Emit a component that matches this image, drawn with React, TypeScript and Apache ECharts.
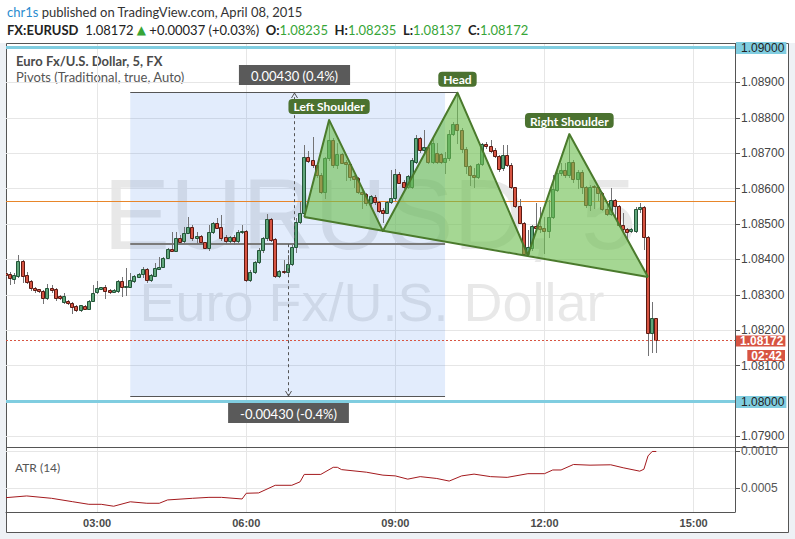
import React, { useEffect, useRef } from 'react';
import * as echarts from 'echarts';

// ---------- data ----------
const START_MINUTES = 70; // first 5-minute bar on the axis: 01:10
const BAR_MINUTES = 5;
const CATEGORY_COUNT = 177; // 01:10 .. 15:50
const timeLabels = ['03:00', '06:00', '09:00', '12:00', '15:00'];
const priceTicks = [1.079, 1.08, 1.081, 1.082, 1.083, 1.084, 1.085, 1.086, 1.087, 1.088, 1.089, 1.09];
const atrTicks = [0.0005, 0.001];

// [open, close, low, high] per 5-minute bar, starting at 01:10
const candles: number[][] = [
  [1.08362, 1.08356, 1.08353, 1.08364], [1.08359, 1.08347, 1.0833, 1.08365], [1.08345, 1.08356, 1.08332, 1.08361],
  [1.08354, 1.08395, 1.08351, 1.08412], [1.08395, 1.08354, 1.08337, 1.08398], [1.08356, 1.08337, 1.08332, 1.08365],
  [1.08339, 1.08318, 1.08314, 1.08342], [1.08318, 1.08314, 1.08307, 1.08323], [1.08316, 1.0831, 1.08308, 1.08317],
  [1.08311, 1.0829, 1.08278, 1.08314], [1.0829, 1.08318, 1.08287, 1.0833], [1.08318, 1.08314, 1.08309, 1.08328],
  [1.08316, 1.0829, 1.08285, 1.08318], [1.08297, 1.0829, 1.08287, 1.08299], [1.0828, 1.08297, 1.08276, 1.08306],
  [1.08282, 1.08276, 1.08274, 1.08285], [1.08276, 1.08266, 1.08249, 1.0828], [1.08268, 1.08257, 1.08255, 1.08271],
  [1.08257, 1.0827, 1.08255, 1.08271], [1.08268, 1.08261, 1.08259, 1.08271], [1.08261, 1.08283, 1.08259, 1.08285],
  [1.08283, 1.08306, 1.08283, 1.08328], [1.08307, 1.08318, 1.08304, 1.08339], [1.08317, 1.08321, 1.08316, 1.08323],
  [1.08321, 1.08312, 1.0829, 1.08328], [1.08314, 1.08308, 1.08306, 1.08316], [1.08309, 1.08314, 1.08307, 1.08316],
  [1.08312, 1.08339, 1.08309, 1.08342], [1.08339, 1.08323, 1.08297, 1.08351], [1.08323, 1.08324, 1.08299, 1.08375],
  [1.08323, 1.08342, 1.08322, 1.08362], [1.0834, 1.08353, 1.08337, 1.08356], [1.08351, 1.08359, 1.08349, 1.08361],
  [1.08358, 1.08372, 1.08351, 1.08379], [1.08372, 1.08342, 1.08337, 1.08375], [1.08342, 1.08356, 1.0834, 1.08359],
  [1.08354, 1.08375, 1.08354, 1.08389], [1.08374, 1.08378, 1.08372, 1.08408], [1.08378, 1.08403, 1.08378, 1.08408],
  [1.08403, 1.08429, 1.08403, 1.08431], [1.08429, 1.08425, 1.08424, 1.08477], [1.08425, 1.08461, 1.08424, 1.08478],
  [1.08461, 1.0845, 1.08448, 1.08469], [1.08452, 1.08474, 1.0845, 1.08492], [1.08474, 1.08491, 1.08474, 1.08521],
  [1.08491, 1.0846, 1.08455, 1.08497], [1.0846, 1.08467, 1.08445, 1.08478], [1.08466, 1.08448, 1.08445, 1.08469],
  [1.08448, 1.08433, 1.08431, 1.0845], [1.08433, 1.08477, 1.08427, 1.08497], [1.08477, 1.08502, 1.08474, 1.08505],
  [1.08502, 1.0849, 1.08488, 1.08516], [1.08491, 1.08461, 1.08455, 1.08525], [1.08464, 1.08452, 1.08445, 1.08469],
  [1.08452, 1.08464, 1.0845, 1.08467], [1.08464, 1.08452, 1.08443, 1.08469], [1.08452, 1.08478, 1.0845, 1.08483],
  [1.08477, 1.0848, 1.08474, 1.08497], [1.0848, 1.08342, 1.0834, 1.08483], [1.08342, 1.08363, 1.0834, 1.0837],
  [1.08363, 1.08392, 1.08361, 1.08395], [1.08392, 1.08426, 1.08389, 1.08431], [1.08426, 1.0846, 1.08422, 1.08464],
  [1.0846, 1.08514, 1.08455, 1.08527], [1.08514, 1.08455, 1.08452, 1.08518], [1.08458, 1.08354, 1.08351, 1.0846],
  [1.08354, 1.08367, 1.08351, 1.0837], [1.08367, 1.08363, 1.08361, 1.08398], [1.08363, 1.08386, 1.08358, 1.08412],
  [1.08386, 1.08436, 1.08384, 1.08441], [1.08436, 1.08506, 1.08422, 1.08516], [1.08506, 1.0853, 1.08502, 1.08563],
  [1.0853, 1.08688, 1.08525, 1.08723], [1.08688, 1.08679, 1.08676, 1.08707], [1.08681, 1.08667, 1.08662, 1.08747],
  [1.08667, 1.08638, 1.08634, 1.08671], [1.08638, 1.08591, 1.08587, 1.08643], [1.08591, 1.08686, 1.08573, 1.0869],
  [1.08686, 1.08737, 1.08681, 1.08794], [1.08737, 1.08667, 1.08662, 1.08742], [1.08667, 1.08698, 1.08657, 1.08728],
  [1.08698, 1.08673, 1.08671, 1.087], [1.08676, 1.08669, 1.08624, 1.08681], [1.08669, 1.08634, 1.08624, 1.08671],
  [1.08636, 1.08626, 1.08605, 1.08638], [1.08629, 1.08591, 1.08587, 1.08634], [1.08591, 1.08585, 1.08544, 1.08596],
  [1.08585, 1.08558, 1.08554, 1.08587], [1.08558, 1.08579, 1.08554, 1.08582], [1.08577, 1.08563, 1.08556, 1.08582],
  [1.08562, 1.08537, 1.08535, 1.08566], [1.0854, 1.08532, 1.08506, 1.08544], [1.08532, 1.08562, 1.0853, 1.08566],
  [1.08562, 1.08573, 1.0856, 1.08652], [1.08573, 1.08641, 1.08568, 1.08654], [1.08641, 1.08617, 1.08615, 1.08648],
  [1.0862, 1.08604, 1.08601, 1.08624], [1.08604, 1.08636, 1.08601, 1.08638], [1.08605, 1.08681, 1.08602, 1.08686],
  [1.08676, 1.08742, 1.08671, 1.08751], [1.08742, 1.08709, 1.08704, 1.08747], [1.08709, 1.08717, 1.08704, 1.08765],
  [1.08717, 1.08676, 1.08671, 1.08723], [1.08676, 1.08728, 1.08671, 1.08747], [1.08701, 1.08676, 1.08671, 1.08728],
  [1.08698, 1.08676, 1.08671, 1.08701], [1.08676, 1.08686, 1.08643, 1.08704], [1.08686, 1.08754, 1.08681, 1.08765],
  [1.08754, 1.08782, 1.08751, 1.08789], [1.08782, 1.08765, 1.08728, 1.08871], [1.08765, 1.08711, 1.08704, 1.0877],
  [1.08711, 1.08664, 1.08643, 1.08718], [1.08664, 1.08638, 1.0861, 1.08667], [1.08638, 1.08634, 1.08605, 1.08657],
  [1.08634, 1.08669, 1.08629, 1.08671], [1.08669, 1.08726, 1.08667, 1.0873], [1.08726, 1.0872, 1.08714, 1.08732],
  [1.0872, 1.08707, 1.08704, 1.08737], [1.08709, 1.08692, 1.08688, 1.08714], [1.08692, 1.08654, 1.0865, 1.08695],
  [1.08658, 1.08695, 1.08652, 1.08723], [1.08695, 1.08667, 1.08664, 1.08723], [1.08667, 1.08604, 1.08601, 1.08671],
  [1.08604, 1.08551, 1.08549, 1.08605], [1.08551, 1.08504, 1.08502, 1.0857], [1.08504, 1.08415, 1.08414, 1.08506],
  [1.08415, 1.08434, 1.08412, 1.08483], [1.08431, 1.08494, 1.08427, 1.08497], [1.08494, 1.08488, 1.08483, 1.08558],
  [1.08494, 1.08485, 1.08478, 1.08549], [1.08488, 1.08481, 1.08417, 1.08521], [1.08481, 1.08519, 1.08464, 1.08568],
  [1.08519, 1.08598, 1.08516, 1.08638], [1.08596, 1.08643, 1.08594, 1.08652], [1.08643, 1.08652, 1.08638, 1.08671],
  [1.08652, 1.08638, 1.08634, 1.08671], [1.08638, 1.08676, 1.08634, 1.08753], [1.08676, 1.08626, 1.0862, 1.08681],
  [1.08626, 1.08648, 1.08601, 1.08652], [1.08648, 1.08604, 1.08588, 1.08652], [1.08604, 1.08554, 1.08549, 1.08607],
  [1.08554, 1.08604, 1.0854, 1.0861], [1.08607, 1.08604, 1.08544, 1.0861], [1.08604, 1.08587, 1.08568, 1.08607],
  [1.08587, 1.08541, 1.0854, 1.08591], [1.08541, 1.08528, 1.08525, 1.08558], [1.08528, 1.08568, 1.08525, 1.08601],
  [1.08568, 1.08551, 1.08516, 1.0857], [1.08551, 1.08497, 1.08494, 1.08554], [1.08497, 1.08485, 1.08483, 1.0853],
  [1.08485, 1.08478, 1.08455, 1.08488], [1.08481, 1.08485, 1.08478, 1.08488], [1.08481, 1.08541, 1.08478, 1.08547],
  [1.08541, 1.08547, 1.08535, 1.08558], [1.08547, 1.08462, 1.08429, 1.08551], [1.08462, 1.08191, 1.0813, 1.08466],
  [1.08191, 1.08235, 1.08139, 1.0828], [1.08235, 1.08172, 1.08137, 1.08235],
];

// ATR(14) readings: [bar index, value]
const atrPoints: number[][] = [
  [0, 0.000376], [5, 0.000399], [11, 0.000367], [16, 0.000322], [20, 0.000286], [23, 0.000286], [26, 0.00026],
  [30, 0.00032], [34, 0.0003], [37, 0.0003], [39, 0.000345], [45, 0.000367], [49, 0.00038], [52, 0.00038],
  [57, 0.000358], [58, 0.000435], [61, 0.00044], [65, 0.000543], [69, 0.000543], [71, 0.00059], [72, 0.00069],
  [76, 0.00069], [79, 0.000786], [80, 0.000786], [81, 0.000755], [87, 0.00072], [91, 0.00068], [94, 0.00067],
  [97, 0.000626], [100, 0.00066], [104, 0.000635], [107, 0.0006], [110, 0.00067], [113, 0.000694], [117, 0.00066],
  [121, 0.00065], [126, 0.0007], [130, 0.0007], [132, 0.00075], [134, 0.00075], [137, 0.000824], [141, 0.000815],
  [146, 0.00082], [149, 0.00078], [153, 0.000734], [154, 0.00076], [155, 0.00094], [156, 0.001], [157, 0.001],
];

const pivotCyan = [1.09, 1.08];
const pivotOrange = [1.08565];
const lastPrice = 1.08172;
const countdownText = '02:42';

// price range tool
const rangeStartIdx = 30;
const rangeEndIdx = 106;
const rangeTopEndIdx = 109;
const rangeBase = 1.08443;
const rangeTop = 1.08873;
const rangeBottom = 1.08013;
const rangeUpLabel = '0.00430 (0.4%)';
const rangeDownLabel = '-0.00430 (-0.4%)';

// head & shoulders points: [bar index, price]
const hsPoints: number[][] = [
  [72, 1.0852], [78, 1.08794], [91, 1.0848], [109, 1.08871], [126, 1.08412], [136, 1.08754], [155, 1.0835],
];
const hsLabelText = ['Left Shoulder', 'Head', 'Right Shoulder'];
const hsLabelAt = [1, 3, 5];

// axis extents
const PRICE_MIN = 1.0787;
const PRICE_MAX = 1.090085;
const ATR_MIN = 0.000182;
const ATR_MAX = 0.001047;

// ---------- styles ----------
const UP_FILL = '#5fa57a';
const UP_BORDER = '#225437';
const DOWN_FILL = '#d75442';
const DOWN_BORDER = '#5b1a13';
const WICK = '#737375';
const GRID_COLOR = '#e6e6e6';
const UI_FONT = 'Lato, "Open Sans", sans-serif';
const AXIS_FONT = '"Liberation Sans", Arial, sans-serif';

const pad2 = (n: number) => String(n).padStart(2, '0');
const categories = Array.from({ length: CATEGORY_COUNT }, (_, i) => {
  const m = START_MINUTES + i * BAR_MINUTES;
  return `${pad2(Math.floor(m / 60))}:${pad2(m % 60)}`;
});
const isLabelTime = (_i: number, v: string) => timeLabels.includes(v);
const cr = (v: number) => Math.round(v) + 0.5;

const renderCandle = (_params: any, api: any) => {
  const i = api.value(0);
  const o = api.value(1);
  const c = api.value(2);
  const l = api.value(3);
  const h = api.value(4);
  const pO = api.coord([i, o]);
  const yC = api.coord([i, c])[1];
  const yL = api.coord([i, l])[1];
  const yH = api.coord([i, h])[1];
  const xc = Math.round(pO[0]);
  const up = c >= o;
  const top = Math.round(Math.min(pO[1], yC));
  const bot = Math.round(Math.max(pO[1], yC));
  return {
    type: 'group',
    children: [
      { type: 'line', shape: { x1: xc + 0.5, y1: Math.round(yH), x2: xc + 0.5, y2: Math.round(yL) + 1 }, style: { stroke: WICK, lineWidth: 1 } },
      {
        type: 'rect',
        shape: { x: xc - 1.5, y: top + 0.5, width: 3, height: Math.max(bot - top, 1) },
        style: { fill: up ? UP_FILL : DOWN_FILL, stroke: up ? UP_BORDER : DOWN_BORDER, lineWidth: 1 },
      },
    ],
  };
};

const renderBack = (params: any, api: any) => {
  const cs = params.coordSys;
  const x0 = cs.x;
  const x1 = cs.x + cs.width;
  const children: any[] = [];
  const tl = api.coord([rangeStartIdx, rangeTop]);
  const br = api.coord([rangeEndIdx, rangeBottom]);
  children.push({
    type: 'rect',
    shape: { x: tl[0], y: tl[1], width: br[0] - tl[0], height: br[1] - tl[1] },
    style: { fill: 'rgba(30,110,230,0.13)' },
  });
  pivotOrange.forEach((v) => {
    const y = cr(api.coord([0, v])[1]);
    children.push({ type: 'line', shape: { x1: x0, y1: y, x2: x1, y2: y }, style: { stroke: '#e8862a', lineWidth: 1 } });
  });
  pivotCyan.forEach((v) => {
    const y = cr(api.coord([0, v])[1]);
    children.push({ type: 'line', shape: { x1: x0, y1: y, x2: x1, y2: y }, style: { stroke: '#80cde0', lineWidth: 3 } });
  });
  const topEnd = api.coord([rangeTopEndIdx, rangeTop]);
  const yT = cr(tl[1]);
  children.push({ type: 'line', shape: { x1: tl[0], y1: yT, x2: topEnd[0], y2: yT }, style: { stroke: '#555', lineWidth: 1 } });
  const yB = cr(br[1]);
  children.push({ type: 'line', shape: { x1: tl[0], y1: yB, x2: br[0], y2: yB }, style: { stroke: '#555', lineWidth: 1 } });
  const yM = Math.round(api.coord([0, rangeBase])[1]);
  children.push({ type: 'line', shape: { x1: tl[0], y1: yM, x2: br[0], y2: yM }, style: { stroke: '#7b7b7b', lineWidth: 2 } });
  return { type: 'group', children };
};

const renderFront = (params: any, api: any) => {
  const cs = params.coordSys;
  const x0 = cs.x;
  const x1 = cs.x + cs.width;
  const children: any[] = [];

  // range arrows + labels
  const xStart = api.coord([rangeStartIdx, rangeBase])[0];
  const xUp = cr((xStart + api.coord([rangeTopEndIdx, rangeBase])[0]) / 2);
  const xDown = cr((xStart + api.coord([rangeEndIdx, rangeBase])[0]) / 2);
  const yBase = api.coord([0, rangeBase])[1];
  const yTop = Math.round(api.coord([0, rangeTop])[1]);
  const yBot = Math.round(api.coord([0, rangeBottom])[1]);
  const dash = { stroke: '#555', lineWidth: 1, lineDash: [3, 3] };
  children.push({ type: 'line', shape: { x1: xUp, y1: yBase, x2: xUp, y2: yTop + 1 }, style: dash });
  children.push({ type: 'polyline', shape: { points: [[xUp - 3, yTop + 6], [xUp, yTop + 1], [xUp + 3, yTop + 6]] }, style: { stroke: '#555', lineWidth: 1, fill: 'none' } });
  children.push({ type: 'line', shape: { x1: xDown, y1: yBase, x2: xDown, y2: yBot }, style: dash });
  children.push({ type: 'polyline', shape: { points: [[xDown - 3, yBot - 5], [xDown, yBot], [xDown + 3, yBot - 5]] }, style: { stroke: '#555', lineWidth: 1, fill: 'none' } });
  const rangeLabelStyle = {
    fill: '#fff', fontSize: 13, fontFamily: UI_FONT, backgroundColor: '#5a5a5a', padding: [4, 12, 3, 12], align: 'center',
  };
  children.push({ type: 'text', x: xUp, y: yTop - 7, style: { ...rangeLabelStyle, text: rangeUpLabel, verticalAlign: 'bottom' } });
  children.push({ type: 'text', x: xDown, y: yBot + 7, style: { ...rangeLabelStyle, text: rangeDownLabel, verticalAlign: 'top' } });

  // head & shoulders
  const pts = hsPoints.map((p) => api.coord(p));
  const fill = 'rgba(110,190,80,0.62)';
  [[0, 1, 2], [2, 3, 4], [4, 5, 6]].forEach((t) => {
    children.push({ type: 'polygon', shape: { points: t.map((k) => pts[k]) }, style: { fill, stroke: 'none' } });
  });
  children.push({ type: 'polyline', shape: { points: pts }, style: { stroke: '#4a7a2c', lineWidth: 2, fill: 'none', lineJoin: 'round' } });
  children.push({ type: 'line', shape: { x1: pts[0][0], y1: pts[0][1], x2: pts[6][0], y2: pts[6][1] }, style: { stroke: '#4a7a2c', lineWidth: 2 } });
  hsLabelText.forEach((txt, k) => {
    const p = pts[hsLabelAt[k]];
    children.push({
      type: 'text', x: p[0], y: p[1] - 6,
      style: {
        text: txt, fill: '#fff', fontSize: 12, fontWeight: 'bold', fontFamily: UI_FONT, backgroundColor: '#4b7230',
        borderRadius: 4, padding: [2, 5, 1, 5], align: 'center', verticalAlign: 'bottom',
      },
    });
  });

  // last price line + labels
  const yLast = api.coord([0, lastPrice])[1];
  children.push({ type: 'line', shape: { x1: x0, y1: cr(yLast), x2: x1, y2: cr(yLast) }, style: { stroke: DOWN_FILL, lineWidth: 1, lineDash: [2, 2] } });
  children.push({
    type: 'text', x: x1 + 1, y: Math.round(yLast) + 1,
    style: { text: lastPrice.toFixed(5), fill: '#fff', fontSize: 12, fontWeight: 'bold', fontFamily: AXIS_FONT, backgroundColor: DOWN_FILL, padding: [0, 2, 0, 4], lineHeight: 11, verticalAlign: 'middle', align: 'left' },
  });
  children.push({
    type: 'text', x: x1 + 50, y: Math.round(yLast) + 10,
    style: { text: countdownText, fill: '#fff', fontSize: 12, fontWeight: 'bold', fontFamily: AXIS_FONT, backgroundColor: DOWN_FILL, padding: [0, 3, 0, 4], lineHeight: 11, verticalAlign: 'top', align: 'right' },
  });

  // pivot labels on the price scale
  pivotCyan.forEach((v) => {
    const y = api.coord([0, v])[1];
    children.push({
      type: 'text', x: x1 + 1, y: Math.round(y) + 1,
      style: { text: v.toFixed(5), fill: '#222', fontSize: 12, fontFamily: AXIS_FONT, backgroundColor: '#80cde0', padding: [0, 2, 0, 5], lineHeight: 12, verticalAlign: 'middle', align: 'left' },
    });
  });
  return { type: 'group', children };
};

function buildOption() {
  const axisLabelBase = { color: '#444', fontSize: 12, fontFamily: AXIS_FONT };
  return {
    animation: false,
    backgroundColor: '#ffffff',
    grid: [
      { left: 6, top: 44, width: 729, height: 403 },
      { left: 6, top: 448, width: 729, height: 64 },
    ],
    xAxis: [
      {
        type: 'category', gridIndex: 0, data: categories, boundaryGap: false,
        axisLine: { show: false }, axisTick: { show: false }, axisLabel: { show: false },
        splitLine: { show: true, interval: isLabelTime, lineStyle: { color: GRID_COLOR } },
      },
      {
        type: 'category', gridIndex: 1, data: categories, boundaryGap: false,
        axisLine: { show: true, lineStyle: { color: '#555' } }, axisTick: { show: false },
        axisLabel: { show: true, interval: isLabelTime, color: '#4a4a4a', fontSize: 11, fontWeight: 'bold', fontFamily: AXIS_FONT, margin: 5 },
        splitLine: { show: true, interval: isLabelTime, lineStyle: { color: GRID_COLOR } },
      },
    ],
    yAxis: [
      {
        type: 'value', gridIndex: 0, position: 'right', min: PRICE_MIN, max: PRICE_MAX, splitNumber: 11, scale: true,
        axisLine: { show: true, lineStyle: { color: '#555' } },
        axisTick: { show: true, length: 5, customValues: priceTicks, lineStyle: { color: '#555' } },
        axisLabel: { ...axisLabelBase, customValues: priceTicks, margin: 6, formatter: (v: number) => v.toFixed(5) },
        splitLine: { show: true, lineStyle: { color: GRID_COLOR } },
      },
      {
        type: 'value', gridIndex: 1, position: 'right', min: ATR_MIN, max: ATR_MAX, splitNumber: 2, scale: true,
        axisLine: { show: true, lineStyle: { color: '#555' } },
        axisTick: { show: true, length: 5, customValues: atrTicks, lineStyle: { color: '#555' } },
        axisLabel: { ...axisLabelBase, color: '#555', customValues: atrTicks, margin: 6, formatter: (v: number) => v.toFixed(4) },
        splitLine: { show: true, lineStyle: { color: GRID_COLOR } },
      },
    ],
    series: [
      { type: 'custom', name: 'back', xAxisIndex: 0, yAxisIndex: 0, z: 1, silent: true, clip: true, renderItem: renderBack, data: [[0, 1.085]] },
      {
        type: 'custom', name: 'EURUSD', xAxisIndex: 0, yAxisIndex: 0, z: 2, silent: true, clip: true,
        renderItem: renderCandle, encode: { x: 0, y: [1, 2, 3, 4] },
        data: candles.map((c, i) => [i, c[0], c[1], c[2], c[3]]),
      },
      { type: 'custom', name: 'front', xAxisIndex: 0, yAxisIndex: 0, z: 3, silent: true, clip: false, renderItem: renderFront, data: [[0, 1.085]] },
      {
        type: 'line', name: 'ATR (14)', xAxisIndex: 1, yAxisIndex: 1, showSymbol: false, symbol: 'none', silent: true,
        lineStyle: { color: '#a3191d', width: 1 }, data: atrPoints,
      },
    ],
    graphic: [
      // margins outside the chart frame
      { type: 'rect', shape: { x: 0, y: 43, width: 6, height: 496 }, style: { fill: '#eef1f5' }, silent: true },
      { type: 'rect', shape: { x: 789, y: 43, width: 6, height: 496 }, style: { fill: '#eef1f5' }, silent: true },
      { type: 'rect', shape: { x: 0, y: 533, width: 795, height: 6 }, style: { fill: '#eef1f5' }, silent: true },
      { type: 'rect', shape: { x: 6.5, y: 43.5, width: 782, height: 489 }, style: { fill: 'none', stroke: '#555', lineWidth: 1 }, silent: true },
      { type: 'line', shape: { x1: 6, y1: 447.5, x2: 788, y2: 447.5 }, style: { stroke: '#555', lineWidth: 1 }, silent: true },
      // watermark
      {
        type: 'text', x: 370, y: 214, silent: true,
        style: { text: 'EURUSD, 5', fontSize: 100, fontFamily: AXIS_FONT, fill: 'rgba(0,0,0,0.09)', align: 'center', verticalAlign: 'middle' },
      },
      {
        type: 'text', x: 372, y: 302, silent: true,
        style: { text: 'Euro Fx/U.S. Dollar', fontSize: 54, fontFamily: AXIS_FONT, fill: 'rgba(0,0,0,0.09)', align: 'center', verticalAlign: 'middle' },
      },
      // header
      {
        type: 'text', x: 7, y: 12, silent: true,
        style: {
          text: '{u|chr1s} published on TradingView.com, April 08, 2015',
          fontSize: 13, fontFamily: UI_FONT, fill: '#333', verticalAlign: 'middle',
          rich: { u: { fill: '#2a8ccf', fontSize: 13, fontFamily: UI_FONT } },
        },
      },
      {
        type: 'text', x: 7, y: 30, silent: true,
        style: {
          text: '{b|FX:EURUSD}  1.08172 {t|▲} +0.00037 (+0.03%)  {b|O:}{g|1.08235}  {b|H:}{g|1.08235}  {b|L:}{g|1.08137}  {b|C:}{g|1.08172}',
          fontSize: 13, fontFamily: UI_FONT, fill: '#222', verticalAlign: 'middle',
          rich: {
            b: { fontWeight: 'bold', fontSize: 13, fontFamily: UI_FONT, fill: '#222' },
            g: { fontSize: 13, fontFamily: UI_FONT, fill: '#37a537' },
            t: { fontSize: 12, fontFamily: '"DejaVu Sans", sans-serif', fill: '#37a537' },
          },
        },
      },
      // pane titles
      { type: 'text', x: 16, y: 61, silent: true, style: { text: 'Euro Fx/U.S. Dollar, 5, FX', fontSize: 13, fontWeight: 'bold', fontFamily: UI_FONT, fill: '#4a4a4a', verticalAlign: 'middle' } },
      { type: 'text', x: 16, y: 77, silent: true, style: { text: 'Pivots (Traditional, true, Auto)', fontSize: 13, fontFamily: UI_FONT, fill: '#555', verticalAlign: 'middle' } },
      { type: 'text', x: 15, y: 467, silent: true, style: { text: 'ATR (14)', fontSize: 12, fontFamily: UI_FONT, fill: '#555', verticalAlign: 'middle' } },
    ],
  };
}

export default function App() {
  const ref = useRef<HTMLDivElement>(null);
  useEffect(() => {
    document.body.style.margin = '0';
    const chart = echarts.init(ref.current!, null, { renderer: 'svg' });
    chart.setOption(buildOption() as any);
    return () => chart.dispose();
  }, []);
  return <div ref={ref} style={{ width: 795, height: 539, position: 'fixed', left: 0, top: 0 }} />;
}
